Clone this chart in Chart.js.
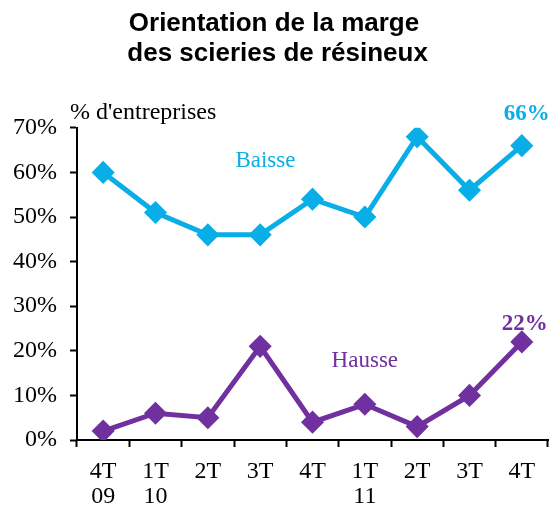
<!DOCTYPE html>
<html lang="fr">
<head>
<meta charset="UTF-8">
<title>Orientation de la marge</title>
<script src="https://cdn.jsdelivr.net/npm/chart.js"></script>
<style>
  body { margin: 0; background: #fff; }
</style>
</head>
<body>
<canvas id="marge" width="555" height="505"></canvas>
<script>
  const trimestres = [['4T', '09'], ['1T', '10'], '2T', '3T', '4T', ['1T', '11'], '2T', '3T', '4T'];
  const baisse = [60, 51, 46, 46, 54, 50, 68, 56, 66];
  const hausse = [2, 6, 5, 21, 4, 8, 3, 10, 22];
  const yTicks = [0, 10, 20, 30, 40, 50, 60, 70];

  const bleu = '#0AAEE6';
  const violet = '#7030A0';
  const serif = 'Liberation Serif';

  // position entre deux catégories
  function entre(x, i, f) {
    return x.getPixelForValue(i) + f * (x.getPixelForValue(i + 1) - x.getPixelForValue(i));
  }

  // textes posés sur le graphique
  const etiquettes = {
    id: 'etiquettes',
    afterDraw(chart) {
      const c = chart.ctx;
      const x = chart.scales.x;
      const y = chart.scales.y;
      const last = baisse.length - 1;
      c.save();
      c.textBaseline = 'middle';
      c.textAlign = 'left';
      c.fillStyle = '#000';
      c.font = '24px ' + serif;
      c.fillText("% d'entreprises", chart.chartArea.left - 7, y.top - 15);

      c.textAlign = 'center';
      c.font = '23px ' + serif;
      c.fillStyle = bleu;
      c.fillText('Baisse', entre(x, 3, 0.1), y.getPixelForValue(62.6));
      c.fillStyle = violet;
      c.fillText('Hausse', x.getPixelForValue(5), y.getPixelForValue(17.7));

      c.font = 'bold 23px ' + serif;
      c.fillStyle = bleu;
      c.fillText(baisse[last] + '%', x.getPixelForValue(last) + 5, y.getPixelForValue(baisse[last]) - 32);
      c.fillStyle = violet;
      c.fillText(hausse[last] + '%', x.getPixelForValue(last) + 3, y.getPixelForValue(hausse[last]) - 18);
      c.restore();
    }
  };

  new Chart(document.getElementById('marge'), {
    type: 'line',
    data: {
      labels: trimestres,
      datasets: [
        {
          label: 'Baisse',
          data: baisse,
          borderColor: bleu,
          backgroundColor: bleu,
          borderWidth: 5,
          pointStyle: 'rectRot',
          pointRadius: 8,
          pointHoverRadius: 8
        },
        {
          label: 'Hausse',
          data: hausse,
          borderColor: violet,
          backgroundColor: violet,
          borderWidth: 5,
          pointStyle: 'rectRot',
          pointRadius: 8,
          pointHoverRadius: 8
        }
      ]
    },
    options: {
      responsive: false,
      animation: false,
      layout: { autoPadding: false, padding: { left: 0, right: 7, bottom: 0 } },
      plugins: {
        legend: { display: false },
        tooltip: { enabled: false },
        title: {
          display: true,
          text: ['Orientation de la marge', '\u00a0des scieries de résineux'],
          color: '#000',
          font: { family: 'Liberation Sans', size: 26, weight: 'bold', lineHeight: 1.15 },
          padding: { top: 9, bottom: 59 }
        }
      },
      scales: {
        x: {
          offset: true,
          afterFit(axis) { axis.height = 65; },
          grid: {
            offset: true,
            drawOnChartArea: false,
            drawTicks: true,
            tickLength: 7,
            tickWidth: 2,
            color: '#000'
          },
          border: { display: true, color: '#000', width: 2 },
          ticks: {
            color: '#000',
            maxRotation: 0,
            autoSkip: false,
            padding: 12,
            font: { family: serif, size: 24, lineHeight: 1.05 }
          }
        },
        y: {
          min: 0,
          max: 70,
          afterFit(axis) { axis.width = 77; },
          afterBuildTicks(axis) {
            axis.ticks = yTicks.map(v => ({ value: v }));
          },
          grid: {
            drawOnChartArea: false,
            drawTicks: true,
            tickLength: 7,
            tickWidth: 2,
            color: '#000'
          },
          border: { display: true, color: '#000', width: 2 },
          ticks: {
            color: '#000',
            padding: 13,
            font: { family: serif, size: 24 },
            callback: v => v + '%'
          }
        }
      }
    },
    plugins: [etiquettes]
  });
</script>
</body>
</html>
